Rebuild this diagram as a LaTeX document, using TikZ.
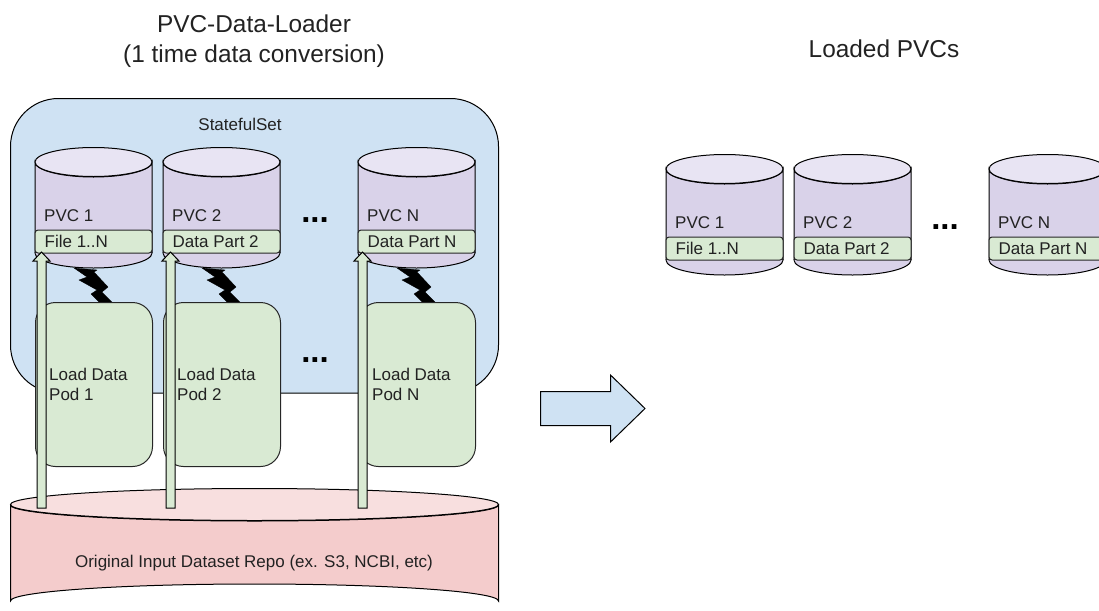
\documentclass[tikz,border=0pt]{standalone}
\usepackage{fontspec}
\setmainfont{Liberation Sans}
\usetikzlibrary{calc}
\definecolor{blueF}{HTML}{CFE2F3}
\definecolor{purpF}{HTML}{D9D2E9}
\definecolor{purpT}{HTML}{E8E4F3}
\definecolor{greenF}{HTML}{D9EAD3}
\definecolor{redF}{HTML}{F4CCCC}
\definecolor{redT}{HTML}{F8DFDF}
\definecolor{inkC}{HTML}{222222}
\tikzset{
  x=1pt,y=-1pt,
  lbl/.style={font=\fontsize{17}{20}\selectfont,text=inkC,inner sep=0pt,align=left},
  ttl/.style={font=\fontsize{24.4}{30}\selectfont,text=inkC,inner sep=0pt,align=center,anchor=base},
  dots/.style={font=\bfseries\fontsize{33}{33}\selectfont,text=black,inner sep=0pt},
  band/.style={draw=black!85!white,line width=1pt,fill=greenF,rounded corners=3pt,minimum width=117pt,minimum height=23pt,inner sep=0pt},
  pod/.style={draw=black!85!white,line width=1pt,fill=greenF,rounded corners=20pt,minimum width=117pt,minimum height=164pt,inner sep=0pt},
  cyl/.style={draw=black,line width=1pt,fill=purpF},
  cyltop/.style={draw=black,line width=1pt,fill=purpT},
  blockup/.style={draw=black,line width=1pt,fill=greenF},
  bolt/.style={fill=black,draw=black,line width=.3pt},
}
% #1 name, #2 left x, #3 top y of cylinder, #4 label, #5 part
\newcommand{\pvcunit}[5]{%
  \draw[cyl] (#2,#3+15) -- (#2,#3+106) arc[start angle=180,end angle=0,x radius=58.5,y radius=15,] -- (#2+117,#3+15)
     arc[start angle=0,end angle=180,x radius=58.5,y radius=15] -- cycle;
  \draw[cyl] (#2,#3+106) arc[start angle=180,end angle=360,x radius=58.5,y radius=15];
  \draw[cyltop] (#2+58.5,#3+15) ellipse[x radius=58.5,y radius=14.5];
  \node[lbl,anchor=base west] (#1name) at (#2+9,#3+74) {#4};
  \node[band,anchor=north west] (#1band) at (#2-.5,#3+82.5) {};
  \node[lbl,anchor=base west] (#1part) at (#2+9.5,#3+100) {#5};
}
\newcommand{\boltat}[1]{%
  \begin{scope}[shift={(#1,0)}]
    \fill[bolt] (39,268) -- (62,270) -- (59,272) -- (73,287) -- (67,292) -- (78,303) -- (65,303) -- (56,294) -- (62,290) -- (44,280) -- (52,277) -- cycle;
  \end{scope}}
\newcommand{\upblock}[4]{% #1 name, #2 x centre, #3 target node, #4 source node
  \coordinate (#1tip) at (#2,252);
  \coordinate (#1foot) at (#2,508);
  \draw[blockup] ($(#1foot)+(-4.5,0)$) -- ($(#1tip)+(-4.5,9)$) -- ($(#1tip)+(-8.5,9)$) -- (#1tip) -- ($(#1tip)+(8.5,9)$) -- ($(#1tip)+(4.5,9)$) -- ($(#1foot)+(4.5,0)$) -- cycle;}
\begin{document}
\begin{tikzpicture}
\useasboundingbox (0,0) rectangle (1099,610);
\node[ttl] (title1) at (254,32.3) {PVC-Data-Loader};
\node[ttl] (title2) at (254,62.3) {(1 time data conversion)};
\node[ttl] (title3) at (884,58) {Loaded PVCs};

\draw[draw=black,line width=1pt,fill=blueF,rounded corners=48pt] (10.5,98.5) rectangle (498.5,393);
\node[lbl,anchor=base] (sset) at (240,130.5) {StatefulSet};

\boltat{35}\boltat{163}\boltat{358}

\node[pod,anchor=north west] (pod1) at (35,302) {};
\node[pod,anchor=north west] (pod2) at (163,302) {};
\node[pod,anchor=north west] (podn) at (358,302) {};
\node[lbl,anchor=west] (pod1t) at (49,384) {Load Data\\Pod 1};
\node[lbl,anchor=west] (pod2t) at (177,384) {Load Data\\Pod 2};
\node[lbl,anchor=west] (podnt) at (372,384) {Load Data\\Pod N};

\pvcunit{a}{35}{147}{PVC 1}{File 1..N}
\pvcunit{b}{163}{147}{PVC 2}{Data Part 2}
\pvcunit{c}{358}{147}{PVC N}{Data Part N}

\node[dots] (d1) at (315,220) {...};
\node[dots] (d2) at (315,360) {...};

% repository cylinder
\draw[draw=black,line width=1pt,fill=redF] (10.5,505) -- (10.5,601) arc[start angle=180,end angle=360,x radius=244,y radius=17] -- (498.5,505) arc[start angle=0,end angle=180,x radius=244,y radius=16] -- cycle;
\draw[draw=black,line width=1pt,fill=redT] (254.5,504.5) ellipse[x radius=244,y radius=16];
\node[lbl,anchor=base] (repo) at (254,567) {Original Input Dataset Repo (ex. S3, NCBI, etc)};

\upblock{u1}{41.5}{aband}{repo}
\upblock{u2}{170.5}{bband}{repo}
\upblock{u3}{362.5}{cband}{repo}

% big arrow
\draw[draw=black,line width=1pt,fill=blueF] (540.5,391.5) -- (610.5,391.5) -- (610.5,375) -- (645,408.5) -- (610.5,442) -- (610.5,425.5) -- (540.5,425.5) -- cycle;

\pvcunit{e}{666}{154}{PVC 1}{File 1..N}
\pvcunit{f}{794}{154}{PVC 2}{Data Part 2}
\pvcunit{g}{989}{154}{PVC N}{Data Part N}
\node[dots] (d3) at (945,227) {...};
\end{tikzpicture}
\end{document}
